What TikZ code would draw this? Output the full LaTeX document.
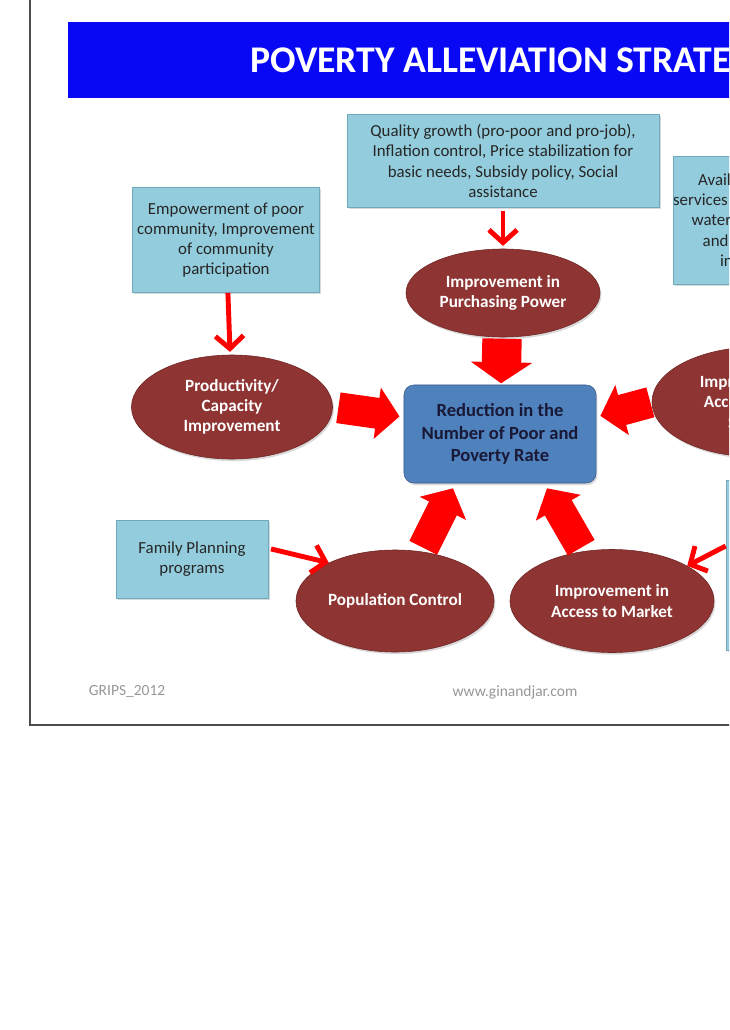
\documentclass[tikz,border=0pt]{standalone}
\usepackage{fontspec}
\setmainfont{Carlito}
\usetikzlibrary{positioning,shapes.geometric,arrows.meta,calc,shadows}
\definecolor{titleblue}{RGB}{8,8,245}
\definecolor{boxblue}{RGB}{147,205,221}
\definecolor{boxedge}{RGB}{112,168,188}
\definecolor{ellred}{RGB}{142,52,50}
\definecolor{elledge}{RGB}{112,36,36}
\definecolor{goalblue}{RGB}{79,129,189}
\definecolor{goaledge}{RGB}{56,92,138}
\definecolor{goaltext}{RGB}{25,25,55}
\definecolor{footgray}{RGB}{150,150,150}
\begin{document}
\begin{tikzpicture}[x=0.025cm, y=-0.025cm,
  infobox/.style={rectangle, draw=boxedge, fill=boxblue, align=center, inner sep=0pt,
    text=black!85, font=\fontsize{12}{14.4}\selectfont,
    drop shadow={opacity=0.3, shadow xshift=1.2pt, shadow yshift=-1.2pt}},
  effect/.style={ellipse, draw=elledge, fill=ellred, align=center, inner sep=0pt,
    text=white, font=\bfseries\fontsize{12.2}{14.4}\selectfont,
    drop shadow={opacity=0.3, shadow xshift=1pt, shadow yshift=-1.5pt}},
  goalbox/.style={rectangle, rounded corners=7pt, draw=goaledge, fill=goalblue, align=center,
    inner sep=0pt, text=goaltext, font=\bfseries\fontsize{13.2}{16}\selectfont,
    drop shadow={opacity=0.3, shadow xshift=1pt, shadow yshift=-1.5pt}},
  bigarrow/.style={draw=red, line width=22pt, -{Triangle[length=16pt,width=36pt]}},
  thinarrow/.style={draw=red, line width=3.5pt, line join=round, -{Straight Barb[length=9pt,width=20pt]}},
  footer/.style={text=footgray, font=\fontsize{11}{13}\selectfont}]
\useasboundingbox (0,0) rectangle (729,1030);
\clip (0,0) rectangle (729,1030);
\draw[black!70, line width=1pt] (30,0) -- (30,725) -- (760,725);
\fill[titleblue] (68,22) rectangle (760,98);
\node[anchor=base west, inner sep=0pt, text=white, font=\bfseries\fontsize{26.8}{30}\selectfont] (title) at (250,73) {POVERTY ALLEVIATION STRATEGY};

\node[infobox, minimum width=7.8cm, minimum height=2.325cm] (qual) at (503,161)
  {Quality growth (pro-poor and pro-job),\\Inflation control, Price stabilization for\\basic needs, Subsidy policy, Social\\assistance};
\node[effect, minimum width=4.85cm, minimum height=2.2cm] (pp) at (503,293) {Improvement in\\Purchasing Power};
\node[goalbox, minimum width=4.8cm, minimum height=2.45cm] (goal) at (500,434) {Reduction in the\\Number of Poor and\\Poverty Rate};
\node[infobox, minimum width=4.675cm, minimum height=2.625cm] (emp) at (226,240)
  {Empowerment of poor\\community, Improvement\\of community\\participation};
\node[effect, minimum width=5.025cm, minimum height=2.6cm] (prod) at (232,407) {Productivity/\\Capacity\\Improvement};
\node[infobox, minimum width=4.625cm, minimum height=3.2cm] (avail) at (767,220)
  {Availability of public\\services (education, health,\\water, electricity, etc.)\\and transportation\\infrastructure};
\node[effect, minimum width=5.25cm, minimum height=2.75cm] (basic) at (757,402) {Improvement in\\Access to Basic\\Services};
\node[infobox, minimum width=3.8cm, minimum height=1.95cm] (fam) at (192,559) {Family Planning\\programs};
\node[effect, minimum width=4.95cm, minimum height=2.55cm] (pop) at (395,601) {Population Control};
\node[effect, minimum width=5.1cm, minimum height=2.575cm] (mkt) at (612,601) {Improvement in\\Access to Market};
\node[infobox, minimum width=4.5cm, minimum height=4.25cm] (infra) at (816,565) {};

\draw[thinarrow, shorten <=2pt, shorten >=2pt] (qual) -- (pp);
\draw[thinarrow, shorten >=2pt] (emp) -- (prod);
\draw[thinarrow, shorten <=2pt] (fam.8) -- (pop.150);
\draw[thinarrow] ($(infra.west)+(0,-19)$) -- (mkt.25);

\draw[bigarrow, line width=28pt, -{Triangle[length=15pt,width=43pt]}, shorten <=1pt, shorten >=1pt] (pp) -- (goal);
\draw[bigarrow, shorten <=4pt, shorten >=3pt] (prod.east) -- ($(goal.west)+(0,-17)$);
\draw[bigarrow, shorten <=1pt, shorten >=3pt] (basic.west) -- ($(goal.east)+(0,-17)$);
\draw[bigarrow, shorten <=3pt] (pop.62) -- ($(goal.south)+(-47,5)$);
\draw[bigarrow, shorten <=3pt] (mkt.120) -- ($(goal.south)+(47,5)$);

\node[footer, anchor=west] (grips) at (84,692) {GRIPS\_2012};
\node[footer] (web) at (515,692) {www.ginandjar.com};
\end{tikzpicture}
\end{document}
